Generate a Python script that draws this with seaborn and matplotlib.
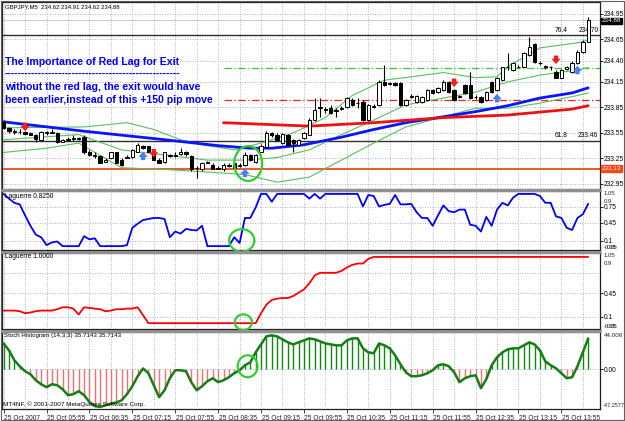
import numpy as np
import pandas as pd
import matplotlib
matplotlib.use("Agg")
import matplotlib.pyplot as plt
import matplotlib.transforms as mtransforms
from matplotlib.patches import Ellipse
import seaborn as sns

sns.set_theme(style="white")
plt.rcParams['font.family'] = ['Liberation Sans', 'DejaVu Sans']

# ---------------- data ----------------
header = "GBPJPY,M5  234.62 234.91 234.62 234.88"
time_tick_bars = [0, 8, 16, 24, 32, 40, 48, 56, 64, 72, 80, 88, 96, 104]
time_tick_labels = ["25 Oct 2007", "25 Oct 05:55", "25 Oct 06:35", "25 Oct 07:15",
                    "25 Oct 07:55", "25 Oct 08:35", "25 Oct 09:15", "25 Oct 09:55",
                    "25 Oct 10:35", "25 Oct 11:15", "25 Oct 11:55", "25 Oct 12:35",
                    "25 Oct 13:15", "25 Oct 13:55"]

open_ = [233.68, 233.61, 233.57, 233.56, 233.56, 233.55, 233.53, 233.47, 233.56, 233.55,
         233.55, 233.44, 233.47, 233.48, 233.49, 233.50, 233.32, 233.29, 233.28, 233.21,
         233.26, 233.32, 233.23, 233.26, 233.27, 233.33, 233.40, 233.39, 233.33, 233.23,
         233.21, 233.29, 233.28, 233.30, 233.32, 233.28, 233.14, 233.12, 233.21, 233.17,
         233.13, 233.12, 233.16, 233.19, 233.16, 233.17, 233.29, 233.21, 233.33, 233.39,
         233.55, 233.53, 233.43, 233.53, 233.47, 233.41, 233.49, 233.53, 233.70, 233.84,
         233.83, 233.84, 233.81, 233.83, 233.86, 233.94, 233.90, 233.91, 233.70, 233.87,
         233.88, 234.15, 234.13, 234.14, 234.14, 233.88, 233.97, 233.91, 233.91, 233.94,
         234.06, 234.03, 234.06, 234.15, 234.06, 233.97, 234.11, 234.11, 233.97, 233.97,
         233.94, 234.15, 234.06, 234.17, 234.33, 234.29, 234.33, 234.33, 234.47, 234.59,
         234.37, 234.34, 234.32, 234.27, 234.20, 234.30, 234.27, 234.37, 234.50, 234.62]
close_ = [233.61, 233.57, 233.56, 233.56, 233.54, 233.53, 233.48, 233.56, 233.55, 233.56,
          233.44, 233.47, 233.48, 233.49, 233.48, 233.32, 233.29, 233.28, 233.20, 233.23,
          233.32, 233.20, 233.17, 233.27, 233.35, 233.41, 233.37, 233.33, 233.23, 233.20,
          233.32, 233.28, 233.29, 233.32, 233.30, 233.12, 233.14, 233.20, 233.20, 233.12,
          233.14, 233.17, 233.17, 233.14, 233.17, 233.29, 233.23, 233.29, 233.40, 233.55,
          233.52, 233.47, 233.54, 233.41, 233.43, 233.47, 233.55, 233.70, 233.82, 233.86,
          233.82, 233.79, 233.82, 233.84, 233.96, 233.88, 233.90, 233.70, 233.88, 233.86,
          234.15, 234.11, 234.14, 234.11, 233.88, 233.94, 233.98, 233.98, 233.97, 234.06,
          234.02, 234.08, 234.15, 234.03, 233.94, 233.98, 234.02, 233.96, 233.97, 233.91,
          234.03, 234.03, 234.20, 234.32, 234.33, 234.37, 234.33, 234.49, 234.56, 234.39,
          234.37, 234.33, 234.32, 234.20, 234.29, 234.32, 234.37, 234.50, 234.62, 234.88]
high_ = [233.70, 233.62, 233.60, 233.59, 233.57, 233.56, 233.54, 233.57, 233.57, 233.59,
         233.56, 233.48, 233.50, 233.52, 233.50, 233.52, 233.35, 233.32, 233.29, 233.26,
         233.33, 233.33, 233.25, 233.29, 233.36, 233.43, 233.41, 233.40, 233.33, 233.25,
         233.33, 233.30, 233.32, 233.37, 233.34, 233.29, 233.16, 233.21, 233.22, 233.19,
         233.16, 233.19, 233.20, 233.20, 233.20, 233.32, 233.30, 233.30, 233.42, 233.57,
         233.56, 233.55, 233.55, 233.54, 233.48, 233.48, 233.56, 233.73, 233.96, 233.96,
         233.86, 233.88, 233.84, 233.87, 233.97, 233.96, 233.96, 233.94, 233.89, 233.89,
         234.17, 234.35, 234.15, 234.15, 234.15, 233.95, 234.01, 233.99, 233.98, 234.07,
         234.07, 234.09, 234.17, 234.16, 234.07, 233.99, 234.13, 234.27, 233.99, 233.98,
         234.04, 234.16, 234.21, 234.33, 234.49, 234.39, 234.35, 234.50, 234.68, 234.61,
         234.40, 234.35, 234.34, 234.29, 234.30, 234.34, 234.40, 234.53, 234.64, 234.91]
low_ = [233.60, 233.55, 233.54, 233.54, 233.53, 233.52, 233.44, 233.46, 233.53, 233.55,
        233.43, 233.44, 233.46, 233.46, 233.47, 233.30, 233.28, 233.26, 233.19, 233.21,
        233.25, 233.20, 233.16, 233.25, 233.26, 233.32, 233.36, 233.32, 233.23, 233.19,
        233.20, 233.27, 233.27, 233.29, 233.28, 233.10, 233.02, 233.10, 233.19, 233.12,
        233.12, 233.10, 233.15, 233.13, 233.15, 233.16, 233.22, 233.20, 233.32, 233.37,
        233.50, 233.46, 233.42, 233.40, 233.32, 233.40, 233.48, 233.52, 233.69, 233.74,
        233.79, 233.77, 233.74, 233.82, 233.84, 233.87, 233.84, 233.69, 233.69, 233.84,
        233.87, 234.10, 234.11, 234.10, 233.87, 233.87, 233.96, 233.90, 233.90, 233.93,
        234.01, 234.02, 234.04, 234.02, 233.93, 233.96, 234.01, 233.95, 233.95, 233.90,
        233.93, 234.02, 234.04, 234.16, 234.29, 234.28, 234.32, 234.32, 234.46, 234.37,
        234.35, 234.30, 234.29, 234.19, 234.19, 234.29, 234.26, 234.36, 234.49, 234.62]

# moving averages (bar index, price)
blue_ma_bars = [0, 15, 30, 40, 46, 50, 56, 63, 69, 75, 82, 88, 94, 100, 106, 109]
blue_ma_vals = [233.68, 233.57, 233.47, 233.40, 233.37, 233.37, 233.41, 233.50, 233.59,
                233.67, 233.74, 233.80, 233.87, 233.96, 234.02, 234.08]
red_ma_bars = [41, 45, 57, 69, 82, 94, 106, 109]
red_ma_vals = [233.67, 233.66, 233.63, 233.67, 233.73, 233.76, 233.83, 233.87]

# Bollinger bands
bb_up_bars = [0, 15, 23, 28, 33, 37, 43, 48, 54, 60, 65, 71, 76, 82, 88, 92, 94, 100, 107, 109]
bb_up_vals = [233.61, 233.62, 233.67, 233.59, 233.47, 233.41, 233.35, 233.43, 233.55, 233.73,
              233.99, 234.17, 234.21, 234.26, 234.20, 234.21, 234.33, 234.55, 234.61, 234.64]
bb_mid_bars = [0, 14, 22, 30, 38, 45, 51, 57, 63, 69, 75, 82, 88, 94, 100, 107, 109]
bb_mid_vals = [233.47, 233.53, 233.35, 233.29, 233.23, 233.23, 233.26, 233.35, 233.53, 233.70,
               233.88, 233.96, 234.03, 234.15, 234.23, 234.29, 234.32]
bb_lo_bars = [0, 8, 14, 22, 30, 38, 45, 51, 57, 63, 69, 75, 82, 88, 94, 100, 107, 109]
bb_lo_vals = [233.32, 233.37, 233.43, 233.14, 233.12, 233.09, 233.06, 232.97, 233.03, 233.23,
              233.43, 233.62, 233.74, 233.84, 233.84, 233.90, 233.99, 234.02]

# horizontal levels
fib_levels = [234.70, 233.46]
fib_names = ["76.4", "61.8"]
support_level = 233.13
green_level, red_level, level_start_bar = 234.31, 233.94, 41
bid_price = 234.88
price_ticks = [234.95, 234.65, 234.40, 234.15, 233.85, 233.55, 233.25, 232.95]

# signal arrows (bar, price)
sell_bars = [4, 28, 84, 103]
sell_prices = [233.62, 233.31, 234.14, 234.41]
buy_bars = [26, 45, 92, 107]
buy_prices = [233.28, 233.08, 233.96, 234.29]

# Laguerre 0.825 (blue) per bar
lag_fast = [1.0, 0.91, 0.83, 0.80, 0.59, 0.39, 0.22, 0.17, 0.02, 0.07,
            0.09, 0.0, 0.0, 0.0, 0.0, 0.19, 0.13, 0.15, 0.0, 0.0,
            0.0, 0.0, 0.0, 0.02, 0.35, 0.43, 0.50, 0.52, 0.54, 0.54,
            0.52, 0.17, 0.28, 0.24, 0.33, 0.31, 0.30, 0.39, 0.0, 0.0,
            0.0, 0.0, 0.0, 0.17, 0.06, 0.54, 0.54, 0.74, 1.0, 1.0,
            0.85, 1.0, 1.0, 1.0, 1.0, 1.0, 1.0, 0.91, 1.0, 0.91,
            1.0, 1.0, 1.0, 1.0, 1.0, 1.0, 1.0, 0.76, 0.98, 0.96,
            0.76, 0.79, 0.81, 0.98, 0.80, 0.80, 0.81, 0.65, 0.54, 0.54,
            0.39, 0.59, 0.78, 0.67, 0.65, 0.70, 0.70, 0.41, 0.39, 0.28,
            0.56, 0.39, 0.70, 0.83, 0.78, 0.93, 1.0, 1.0, 1.0, 1.0,
            0.96, 0.83, 0.83, 0.57, 0.54, 0.35, 0.31, 0.54, 0.61, 0.81]
# Laguerre 1.0 (red) per bar
lag_slow = [0.19, 0.19, 0.19, 0.18, 0.15, 0.16, 0.18, 0.19, 0.19, 0.19,
            0.21, 0.24, 0.24, 0.22, 0.13, 0.24, 0.23, 0.22, 0.21, 0.18,
            0.19, 0.21, 0.21, 0.22, 0.22, 0.24, 0.12, 0.0, 0.0, 0.0,
            0.0, 0.0, 0.0, 0.0, 0.0, 0.0, 0.0, 0.0, 0.0, 0.0,
            0.0, 0.0, 0.0, 0.0, 0.0, 0.0, 0.0, 0.0, 0.15, 0.28,
            0.35, 0.37, 0.38, 0.38, 0.41, 0.46, 0.51, 0.60, 0.72, 0.76,
            0.76, 0.76, 0.76, 0.79, 0.84, 0.88, 0.90, 0.90, 0.97, 1.0,
            1.0, 1.0, 1.0, 1.0, 1.0, 1.0, 1.0, 1.0, 1.0, 1.0,
            1.0, 1.0, 1.0, 1.0, 1.0, 1.0, 1.0, 1.0, 1.0, 1.0,
            1.0, 1.0, 1.0, 1.0, 1.0, 1.0, 1.0, 1.0, 1.0, 1.0,
            1.0, 1.0, 1.0, 1.0, 1.0, 1.0, 1.0, 1.0, 1.0, 1.0]
# Stoch histogram per bar
stoch = [31.6, 23.1, 11.0, 3.7, -2.4, -6.1, -13.4, -18.3, -21.9, -18.3,
         -19.5, -24.3, -31.6, -30.4, -26.8, -31.6, -40.0, -45.0, -46.0, -44.0,
         -42.0, -40.5, -38.0, -30.4, -20.7, -8.5, 1.0, -4.9, -19.5, -34.1,
         -25.6, -11.0, -1.2, -1.2, -2.4, -15.8, -25.6, -20.7, -14.6, -11.0,
         -15.8, -13.4, -9.7, -4.9, -1.2, 4.9, 8.5, 20.7, 30.4, 40.2,
         41.4, 40.2, 36.5, 32.9, 30.4, 32.9, 35.3, 37.7, 36.5, 34.1,
         31.6, 30.4, 29.2, 29.2, 35.3, 37.7, 37.7, 25.6, 20.7, 19.5,
         31.6, 29.2, 25.6, 17.0, 6.1, -3.7, -8.5, -8.5, -7.3, -4.9,
         -1.2, 4.9, 6.1, 3.7, -3.7, -15.8, -11.0, -8.5, -7.3, -23.1,
         -12.2, 4.9, 14.6, 20.7, 24.3, 25.6, 25.6, 29.2, 32.9, 30.4,
         23.1, 9.7, 4.9, 1.2, -4.9, -11.0, -9.7, 3.7, 20.7, 37.7]

# ---------------- figure ----------------
W, H = 625, 421
fig = plt.figure(figsize=(W / 100, H / 100), dpi=100)
fig.patch.set_facecolor("white")

def panel(top, bottom):
    return fig.add_axes([2 / W, 1 - bottom / H, 598 / W, (bottom - top) / H])

ax0 = panel(2, 189)
ax1 = panel(191, 250)
ax2 = panel(253, 329)
ax3 = panel(332, 409)
axes = [ax0, ax1, ax2, ax3]

x = np.arange(len(close_))
XL = (-0.3, 111.2)
grid_col = "#8d9bb0"
for ax in axes:
    ax.set_xlim(*XL)
    ax.set_facecolor("white")
    for s in ax.spines.values():
        s.set_color("#202020")
        s.set_linewidth(0.9)
    ax.vlines(np.arange(0, 112, 4), -1000, 1000, colors=grid_col, linestyles=(0, (1, 2)),
              linewidth=0.6, zorder=0)
    ax.yaxis.tick_right()
    ax.tick_params(axis="y", length=2, width=0.6, labelsize=4.8, pad=1, colors="black", right=True)
    ax.tick_params(axis="x", bottom=False, labelbottom=False)
    ax.set_xlabel("")
    ax.set_ylabel("")

for yy in [190, 251.5, 330.5]:
    fig.add_artist(plt.Line2D([2 / W, 600 / W], [1 - yy / H] * 2, color="#909090", lw=2.2))

# ---- main panel ----
ax0.set_ylim(232.89, 235.09)
ax0.set_yticks(price_ticks)
ax0.set_yticklabels([f"{v:.2f}" for v in price_ticks])
for v in price_ticks:
    ax0.axhline(v, color=grid_col, ls=(0, (1, 2)), lw=0.6, zorder=0)

for v, nm in zip(fib_levels, fib_names):
    ax0.axhline(v, color="#303030", lw=1.0, zorder=1)
    ax0.text(102.8, v + 0.015, nm, fontsize=4.8, ha="left", va="bottom", color="black")
    ax0.text(110.9, v + 0.015, f"{v:.2f}", fontsize=4.8, ha="right", va="bottom", color="black")
ax0.axhline(support_level, color="#f04a1a", lw=1.3, zorder=1)
ax0.hlines(green_level, level_start_bar, XL[1], colors="#33cc33", linestyles=(0, (6, 2, 1, 2)), lw=0.9, zorder=1)
ax0.hlines(red_level, level_start_bar, XL[1], colors="#ee2222", linestyles=(0, (6, 2, 1, 2)), lw=0.9, zorder=1)
ax0.axhline(bid_price, color="#c8c8c8", lw=0.6, zorder=0)

bb_col = "#5cbf5c"
for bars, vals in [(bb_up_bars, bb_up_vals), (bb_mid_bars, bb_mid_vals), (bb_lo_bars, bb_lo_vals)]:
    sns.lineplot(x=bars, y=vals, ax=ax0, color=bb_col, linewidth=0.8, zorder=2)

sns.lineplot(x=blue_ma_bars, y=blue_ma_vals, ax=ax0, color="#0a14ff", linewidth=2.0, zorder=5)
sns.lineplot(x=red_ma_bars, y=red_ma_vals, ax=ax0, color="#ee1111", linewidth=2.0, zorder=5)

o = np.array(open_); c = np.array(close_); h = np.array(high_); l = np.array(low_)
ax0.vlines(x, l, h, color="black", lw=0.8, zorder=6)
up = c >= o
bot = np.minimum(o, c)
ht = np.abs(c - o)
ax0.bar(x[up], ht[up], bottom=bot[up], width=0.62, color="white", edgecolor="black", linewidth=0.7, zorder=7)
ax0.bar(x[~up], ht[~up], bottom=bot[~up], width=0.62, color="black", edgecolor="black", linewidth=0.7, zorder=7)

arrow_style = "simple,head_length=0.35,head_width=0.6,tail_width=0.28"
for b, p in zip(sell_bars, sell_prices):
    ax0.annotate("", xy=(b, p - 0.05), xytext=(b, p + 0.05),
                 arrowprops=dict(arrowstyle=arrow_style, color="#ff1a1a", lw=0,
                                 shrinkA=0, shrinkB=0, mutation_scale=11), zorder=9)
for b, p in zip(buy_bars, buy_prices):
    ax0.annotate("", xy=(b, p + 0.05), xytext=(b, p - 0.05),
                 arrowprops=dict(arrowstyle=arrow_style, color="#4a7ff0", lw=0,
                                 shrinkA=0, shrinkB=0, mutation_scale=11), zorder=9)

ax0.add_patch(Ellipse((45.6, 233.19), 5.2, 0.41, fill=False, ec="#33cc33", lw=1.6, zorder=10))
ax1.add_patch(Ellipse((44.4, 0.11), 4.7, 0.43, fill=False, ec="#33cc33", lw=1.6, zorder=10, clip_on=False))
ax2.add_patch(Ellipse((44.7, 0.015), 3.2, 0.235, fill=False, ec="#33cc33", lw=1.6, zorder=10, clip_on=False))
ax3.add_patch(Ellipse((45.5, 3.7), 3.7, 26.8, fill=False, ec="#33cc33", lw=1.6, zorder=10))

bt = mtransforms.blended_transform_factory(ax0.transAxes, ax0.transData)
ax0.text(1.003, bid_price - 0.01, f"{bid_price:.2f}", transform=bt, fontsize=4.6, color="white", va="center",
         ha="left", bbox=dict(boxstyle="square,pad=0.08", fc="black", ec="black"), zorder=20)
ax0.text(1.003, support_level, f"{support_level:.2f}", transform=bt, fontsize=4.6, color="#ffe0d0", va="center",
         ha="left", bbox=dict(boxstyle="square,pad=0.12", fc="#f04a1a", ec="#f04a1a"), zorder=20)

# ---- Laguerre panels ----
lag_levels = [0.75, 0.45, 0.1]
ax1.set_ylim(-0.074, 1.056)
ax2.set_ylim(-0.088, 1.059)
for ax in (ax1, ax2):
    for v in lag_levels:
        ax.axhline(v, color=grid_col, ls=(0, (1, 2)), lw=0.6, zorder=0)
sns.lineplot(x=x, y=lag_fast, ax=ax1, color="#0000ff", linewidth=1.3)
sns.lineplot(x=x, y=lag_slow, ax=ax2, color="#ff0000", linewidth=1.3)
ax1.set_yticks([0.75, 0.45, 0.1])
ax1.set_yticklabels(["0.75", "0.45", "0.1"])
ax2.set_yticks([0.45, 0.1])
ax2.set_yticklabels(["0.45", "0.1"])
# crowded edge labels as in the original terminal (drawn over one another there)
for ax, extra_top in ((ax1, 0.86), (ax2, 0.89)):
    ax.text(1.006, 0.995, "1.05", transform=ax.transAxes, fontsize=4.3, va="top", ha="left")
    ax.text(1.006, extra_top, "0.9", transform=ax.transAxes, fontsize=4.3, va="top", ha="left")
    ax.text(1.006, 0.005, "-0.05", transform=ax.transAxes, fontsize=4.0, va="bottom", ha="left")
    ax.text(1.012, 0.005, "0.05", transform=ax.transAxes, fontsize=4.0, va="bottom", ha="left")

# ---- Stoch panel ----
ax3.set_ylim(-48.5, 45.5)
ax3.axhline(0, color=grid_col, ls=(0, (1, 2)), lw=0.6, zorder=0)
st = np.array(stoch)
pos = st >= 0
ax3.vlines(x[pos], 0, st[pos], colors="#0b8a0b", lw=1.0, zorder=2)
ax3.vlines(x[~pos], 0, st[~pos], colors="#f07070", lw=1.0, zorder=2)
sns.lineplot(x=x, y=stoch, ax=ax3, color="#167d16", linewidth=1.8, zorder=3)
ax3.set_yticks([0])
ax3.set_yticklabels(["0.00"])
ax3.text(1.006, 0.99, "44.006", transform=ax3.transAxes, fontsize=4.5, va="top", ha="left")
ax3.text(1.004, 0.01, "-47.2577", transform=ax3.transAxes, fontsize=4.0, va="bottom", ha="left")

ax3.set_xticks(time_tick_bars)
ax3.set_xticklabels(time_tick_labels, fontsize=4.8, ha="left")
ax3.tick_params(axis="x", bottom=True, labelbottom=True, length=3, width=0.6, pad=1.5, direction="out")
for lab in ax3.get_xticklabels():
    lab.set_transform(lab.get_transform() + mtransforms.ScaledTranslation(0.5 / 100, 0, fig.dpi_scale_trans))

# ---- texts ----
fig.text(5 / W, 1 - 7 / H, header, fontsize=4.3, va="center", ha="left", color="black")
fig.text(5 / W, 1 - 196 / H, "Laguerre 0.8250", fontsize=4.8, va="center", ha="left", color="black")
fig.text(5 / W, 1 - 257 / H, "Laguerre 1.0000", fontsize=4.8, va="center", ha="left", color="black")
fig.text(4 / W, 1 - 336 / H, "Stoch Histogram (14,3,3) 35.7143 35.7143", fontsize=4.4, va="center",
         ha="left", color="black")
fig.text(3 / W, 1 - 404 / H, "MT4NF, \u00a9 2001-2007 MetaQuotes Software Corp.", fontsize=4.6,
         va="center", ha="left", color="black")

blue = "#0000ff"
fig.text(5 / W, 1 - 62 / H, "The Importance of Red Lag for Exit", fontsize=7.6, weight="bold",
         color=blue, va="center", ha="left")
fig.text(5 / W, 1 - 74 / H, "-" * 52, fontsize=7.6, weight="bold", color=blue, va="center", ha="left")
fig.text(5 / W, 1 - 87 / H, "without the red lag, the exit would have", fontsize=7.6, weight="bold",
         color=blue, va="center", ha="left")
fig.text(5 / W, 1 - 100 / H, "been earlier,instead of this +150 pip move", fontsize=7.6, weight="bold",
         color=blue, va="center", ha="left")

fig.add_artist(plt.Rectangle((1 / W, 1 / H), 623 / W, 419 / H, fill=False, ec="#606060", lw=0.8))

fig.savefig("out.png", dpi=100, facecolor="white")
